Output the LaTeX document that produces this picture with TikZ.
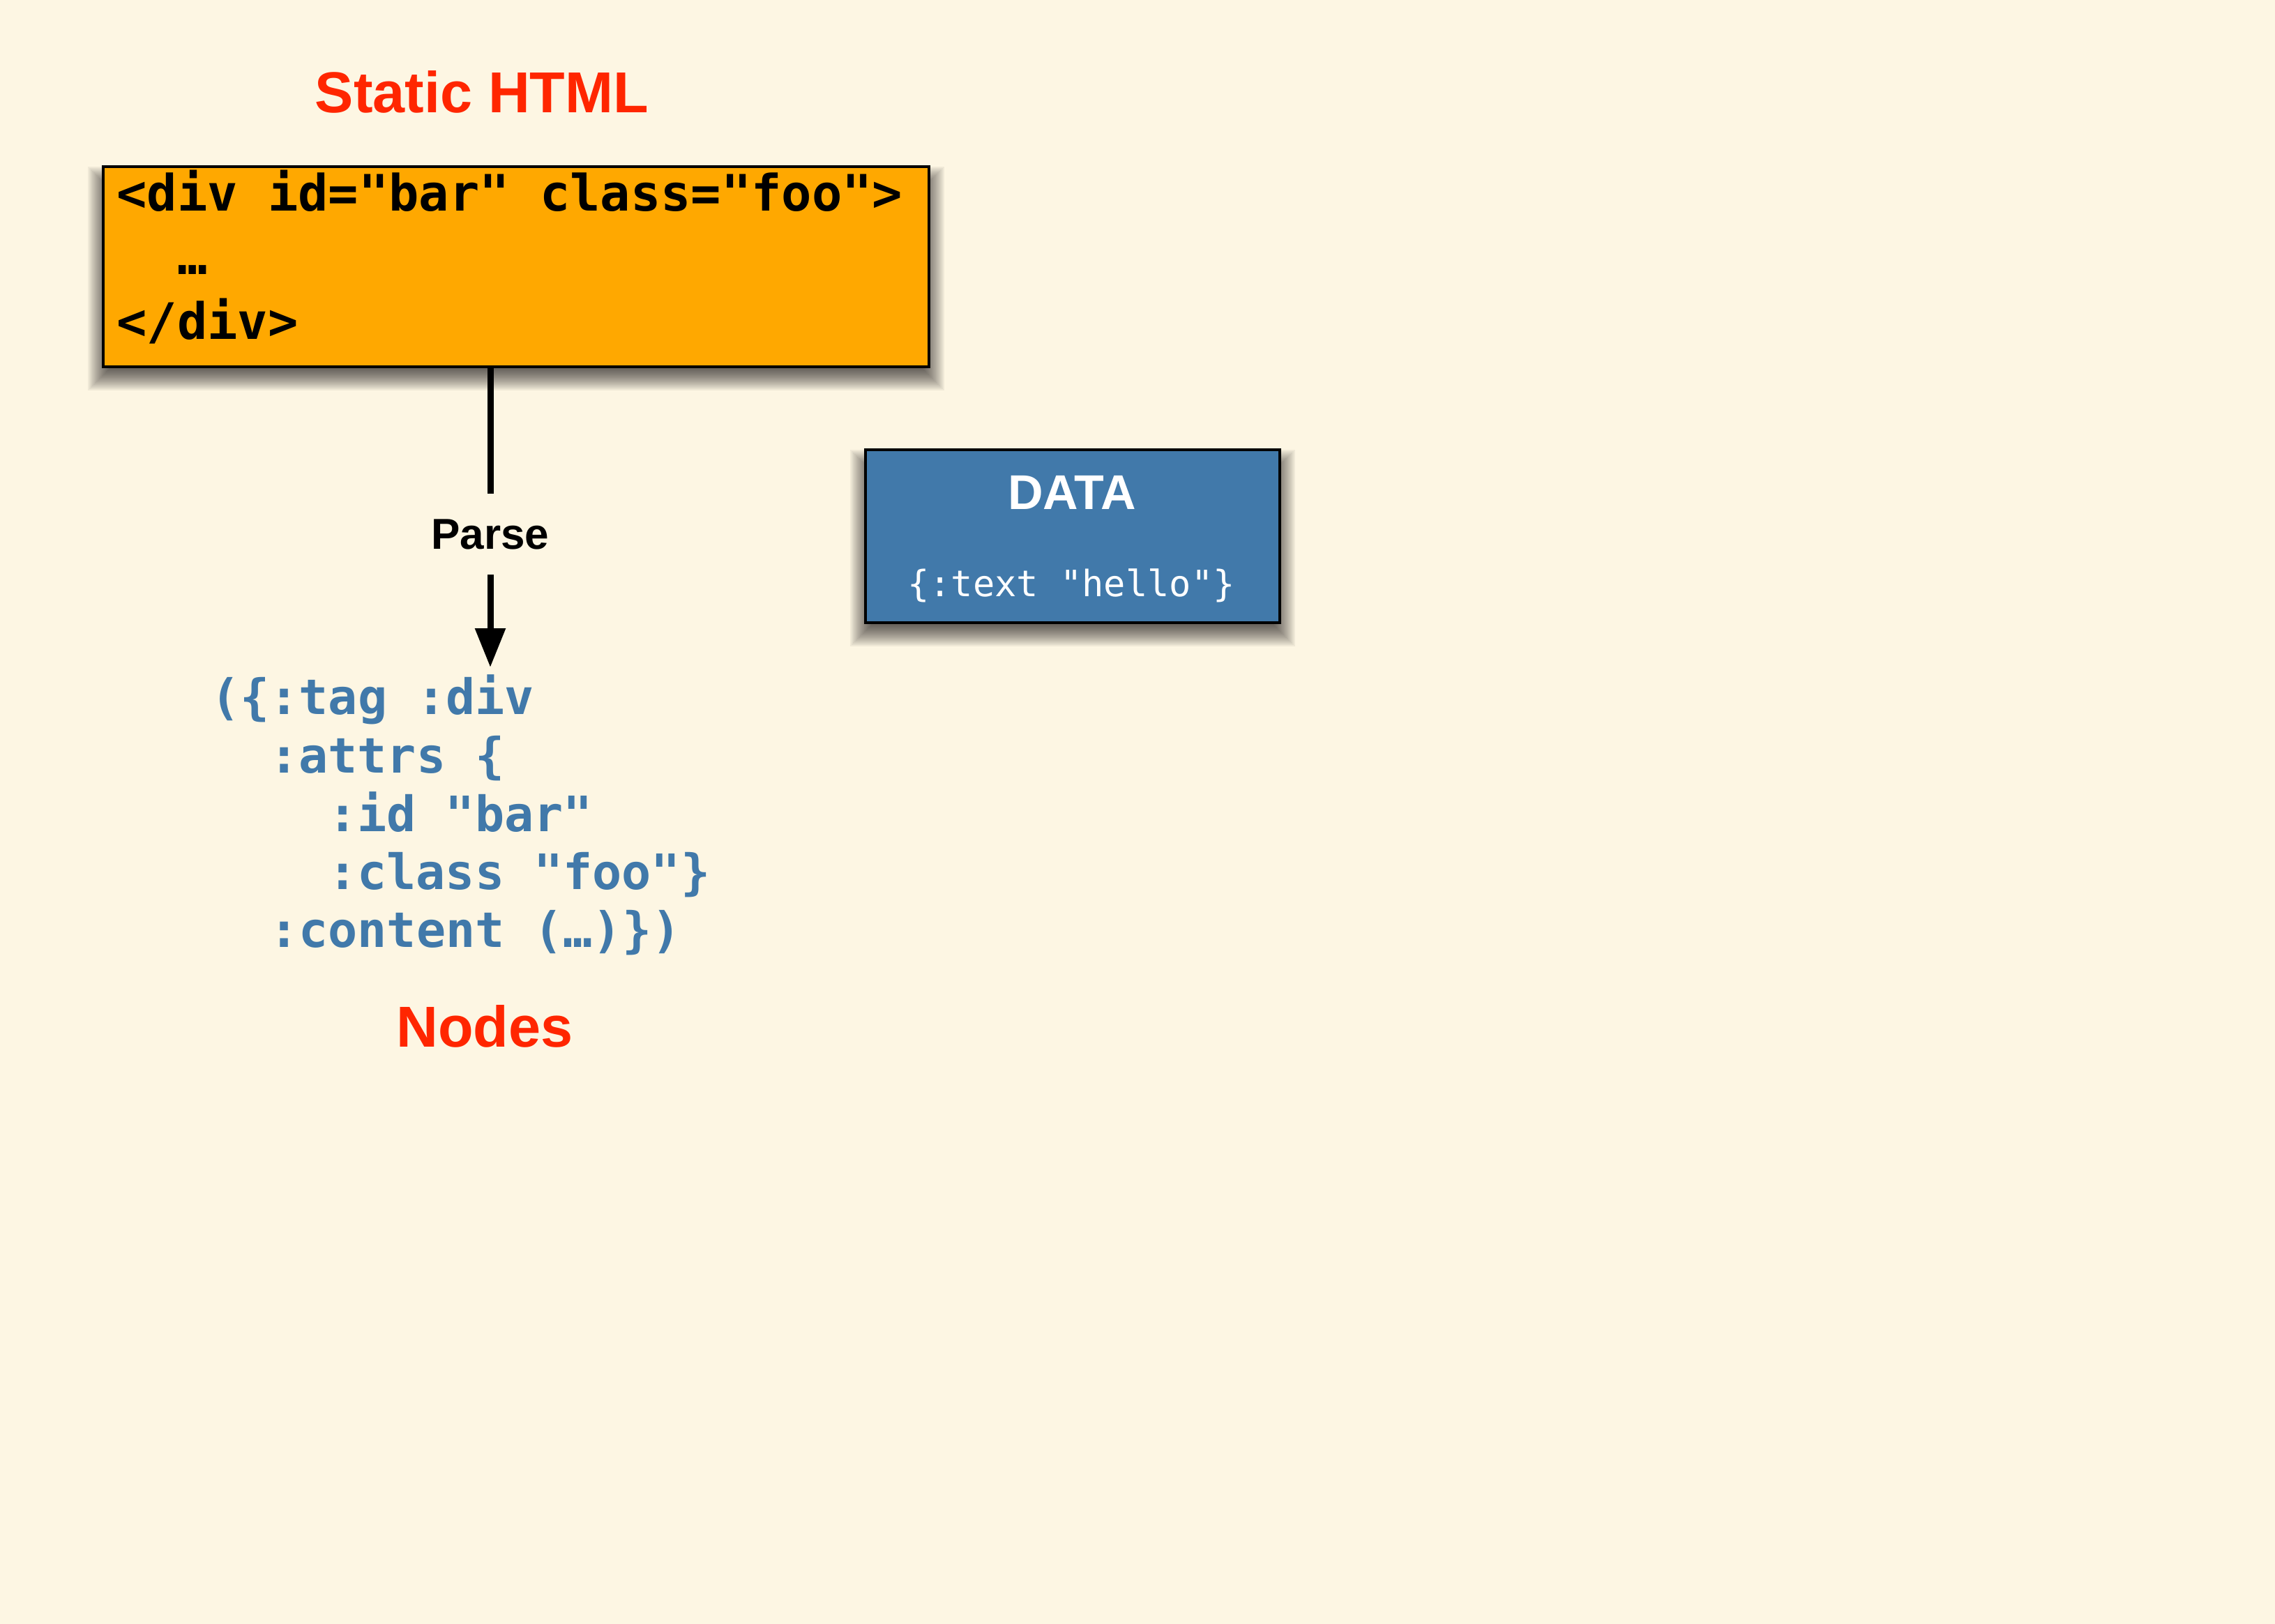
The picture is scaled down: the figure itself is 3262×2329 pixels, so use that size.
\documentclass[tikz,border=0pt]{standalone}
\usepackage{fontspec}
\setmainfont{Liberation Sans}
\newfontfamily\codefont{DejaVu Sans Mono}
\usetikzlibrary{arrows.meta}
\definecolor{bg}{RGB}{253,246,227}
\definecolor{boxorange}{RGB}{255,168,0}
\definecolor{boxblue}{RGB}{65,121,170}
\definecolor{codeblue}{RGB}{65,121,170}
\definecolor{titlered}{RGB}{255,38,0}
\newcommand\softshadow[4]{%
  \foreach \s in {0,2,...,40}{%
    \fill[black,opacity=0.05] ({#1+18-\s},{#2+40-\s}) rectangle ({#3-18+\s},{#4-6+\s});
  }}
\begin{document}
\begin{tikzpicture}[x=0.5pt,y=-0.5pt,
  titletext/.style={font={\fontsize{41.4pt}{48pt}\selectfont\bfseries}, text=titlered, anchor=base, inner sep=0pt},
  htmlcode/.style={font={\codefont\fontsize{36pt}{42pt}\selectfont\bfseries}, text=black, anchor=base west, inner sep=0pt},
  nodecode/.style={font={\codefont\fontsize{35pt}{42pt}\selectfont\bfseries}, text=codeblue, anchor=base west, inner sep=0pt},
  codebox/.style={draw=black, line width=2.25pt, inner sep=0pt},
  conn/.style={draw=black, line width=4.5pt},
]
\useasboundingbox (0,0) rectangle (3262,2329);
\fill[bg] (0,0) rectangle (3262,2329);

% shadows
\softshadow{148}{239}{1332}{526}
\softshadow{1241}{645}{1835}{893}

% static HTML box
\node[codebox, fill=boxorange, minimum width=592pt, minimum height=143.5pt] (html) at (740,382.5) {};
\node[titletext] (htmltitle) at (691,161) {Static HTML};
\node[htmlcode] (h1) at (167,302) {<div id="bar" class="foo">};
\node[htmlcode] (h2) at (254,393) {…};
\node[htmlcode] (h3) at (167,486) {</div>};

% data box
\node[codebox, fill=boxblue, minimum width=297pt, minimum height=124pt] (data) at (1538,769) {};
\node[font={\fontsize{35pt}{42pt}\selectfont\bfseries}, text=white, anchor=base, inner sep=0pt] (datatitle) at (1537,730) {DATA};
\node[font={\codefont\fontsize{26pt}{32pt}\selectfont}, text=white, anchor=base, inner sep=0pt] (datatext) at (1536,855) {\{:text "hello"\}};

% parse arrow
\node[font={\fontsize{31pt}{36pt}\selectfont\bfseries}, anchor=base, inner xsep=0pt, inner ysep=18pt] (parse) at (703,787) {Parse};
\coordinate (tip) at (703,957);
\draw[conn] (parse.north |- html.south) -- (parse.north);
\draw[conn, -{Triangle[length=28pt,width=21pt]}] (parse.south) -- (tip);

% nodes code
\node[nodecode] (n1) at (302,1024) {(\{:tag :div};
\node[nodecode] (n2) at (386,1108) {:attrs \{};
\node[nodecode] (n3) at (470,1192) {:id "bar"};
\node[nodecode] (n4) at (470,1275) {:class "foo"\}};
\node[nodecode] (n5) at (386,1358.5) {:content (…)\})};
\node[titletext] (nodestitle) at (695,1501) {Nodes};
\end{tikzpicture}
\end{document}
